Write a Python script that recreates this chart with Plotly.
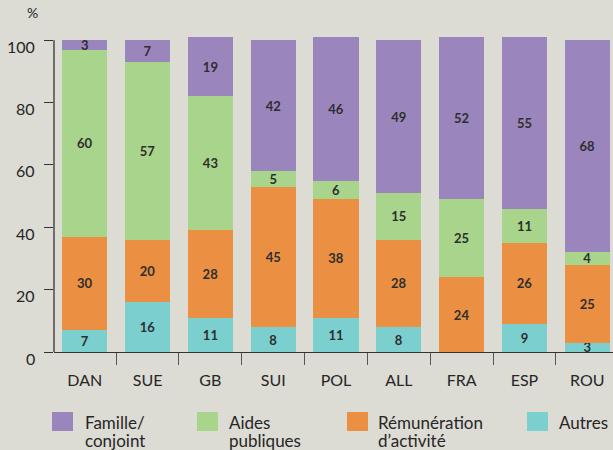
import plotly.graph_objects as go

# data
countries = ["DAN", "SUE", "GB", "SUI", "POL", "ALL", "FRA", "ESP", "ROU"]
autres = [7, 16, 11, 8, 11, 8, 0, 9, 3]
remuneration = [30, 20, 28, 45, 38, 28, 24, 26, 25]
aides = [60, 57, 43, 5, 6, 15, 25, 11, 4]
famille = [3, 7, 19, 42, 46, 49, 52, 55, 68]
y_ticks = [0, 20, 40, 60, 80, 100]

BG = "#dcdbd4"
INK = "#262626"
FONT = "Lato, 'Open Sans', sans-serif"

W, H = 613, 450
ML, MR, MT, MB = 54, 0, 34, 98
PW, PH = W - ML - MR, H - MT - MB


def xp(px):
    return (px - ML) / PW


def yp(py):
    return (H - MB - py) / PH


series = [
    ("Autres", autres, "#7bcfcf"),
    ("Rémunération d’activité", remuneration, "#eb8f42"),
    ("Aides publiques", aides, "#a8d48c"),
    ("Famille/conjoint", famille, "#9b85bd"),
]

fig = go.Figure()
for name, vals, color in series:
    fig.add_trace(go.Bar(
        x=countries,
        y=vals,
        name=name,
        marker=dict(color=color, line=dict(width=0)),
        text=[str(v) if v else "" for v in vals],
        textposition="inside",
        insidetextanchor="middle",
        textangle=0,
        constraintext="none",
        textfont=dict(family=FONT, size=13, color="#2e2e2e", weight=700),
        hoverinfo="skip",
    ))

fig.update_layout(
    width=W, height=H,
    barmode="stack",
    bargap=0.28,
    showlegend=False,
    paper_bgcolor=BG,
    plot_bgcolor=BG,
    margin=dict(l=ML, r=MR, t=MT, b=MB, pad=0),
    font=dict(family=FONT, color=INK),
)

fig.update_xaxes(
    range=[-0.49, 8.41],
    showline=True, linecolor="#333", linewidth=1.3,
    ticks="outside", tickson="boundaries", ticklen=12, tickcolor="#555", tickwidth=1,
    ticklabelstandoff=14,
    tickfont=dict(size=16, color=INK),
    showgrid=False, zeroline=False,
)
fig.update_yaxes(
    range=[0, 102],
    tickvals=y_ticks,
    showticklabels=False,
    ticks="outside", ticklen=9, tickcolor="#333", tickwidth=1.3,
    showline=False, showgrid=False, zeroline=False,
)

# y axis line only up to 100
fig.add_shape(type="line", xref="paper", yref="y", x0=0, x1=0, y0=0, y1=100,
              line=dict(color="#333", width=1.3))

# y tick labels sit a little below their ticks in the reference
for t in y_ticks:
    fig.add_annotation(x=xp(37), y=t, xref="paper", yref="y", text=str(t),
                       showarrow=False, xanchor="right", yanchor="middle", yshift=-6,
                       font=dict(size=16, color=INK))

fig.add_annotation(x=xp(32), y=yp(13), xref="paper", yref="paper", text="%",
                   showarrow=False, xanchor="center", yanchor="middle",
                   font=dict(size=14, color=INK))

# hand-made legend
legend_items = [
    ("Famille/", "conjoint", "#9b85bd", 52, 83),
    ("Aides", "publiques", "#a8d48c", 197, 227),
    ("Rémunération", "d’activité", "#eb8f42", 347, 376),
    ("Autres", "", "#7bcfcf", 527, 557),
]
for line1, line2, color, sx, tx in legend_items:
    fig.add_shape(type="rect", xref="paper", yref="paper",
                  x0=xp(sx), x1=xp(sx + 21), y0=yp(431), y1=yp(412),
                  fillcolor=color, line=dict(width=0))
    fig.add_annotation(x=xp(tx), y=yp(422), xref="paper", yref="paper", text=line1,
                       showarrow=False, xanchor="left", yanchor="middle",
                       font=dict(size=17, color=INK))
    if line2:
        fig.add_annotation(x=xp(tx), y=yp(440), xref="paper", yref="paper", text=line2,
                           showarrow=False, xanchor="left", yanchor="middle",
                           font=dict(size=17, color=INK))

fig.write_html("out.html", config={"displayModeBar": False},
               post_script="document.body.style.margin='0';")
